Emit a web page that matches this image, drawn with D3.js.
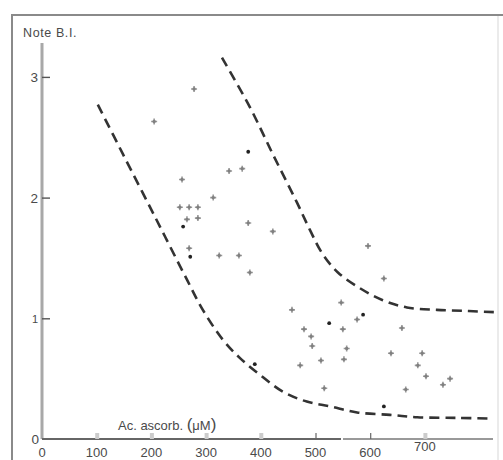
<!DOCTYPE html>
<html><head><meta charset="utf-8">
<script src="https://cdn.jsdelivr.net/npm/d3@7"></script>
<style>body{margin:0;background:#fff}svg{display:block}text{font-family:"Liberation Sans",Arial,sans-serif;fill:#4a4a4a}</style>
</head><body><svg id="c" width="503" height="460"></svg>
<script>
// Data
const xTicks = [0,100,200,300,400,500,600,700];
const yTicks = [0,1,2,3];
// grey "+" measurements: [ascorbic acid µM, B.I. score]
const crossX = [205,278,256,342,366,313,252,269,285,265,285,269,377,422,324,360,380,457,596,625,547,576,479,550,658,492,494,557,638,695,510,552,472,687,702,746,733,516,665];
const crossY = [2.63,2.90,2.15,2.22,2.24,2.00,1.92,1.92,1.92,1.82,1.83,1.58,1.79,1.72,1.52,1.52,1.38,1.07,1.60,1.33,1.13,0.99,0.91,0.91,0.92,0.85,0.77,0.75,0.71,0.71,0.65,0.66,0.61,0.61,0.52,0.50,0.45,0.42,0.41];
// small black dots
const dotX = [377,258,271,587,525,625,389];
const dotY = [2.38,1.76,1.51,1.03,0.96,0.27,0.62];
// lower envelope (dashed)
const lowX = [102,148,210,265,294,331,362,399,441,484,527,576,636,686,760,819];
const lowY = [2.77,2.36,1.81,1.32,1.07,0.82,0.67,0.53,0.39,0.31,0.27,0.22,0.20,0.18,0.175,0.17];
// upper envelope (dashed)
const upX = [329,380,423,466,490,512,541,581,623,667,722,780,832];
const upY = [3.16,2.75,2.35,1.96,1.73,1.54,1.38,1.25,1.15,1.09,1.07,1.06,1.05];

const svg = d3.select("#c");
const x = d3.scaleLinear().domain([0,800]).range([42,479.6]);
const y = d3.scaleLinear().domain([0,3]).range([439,76.9]);

// frame
svg.append("path").attr("d","M12,460 L12,15 L503,15").attr("fill","none").attr("stroke","#8a8a8a").attr("stroke-width",2);
svg.append("line").attr("x1",498).attr("x2",498).attr("y1",16).attr("y2",460).attr("stroke","#e4e4e4").attr("stroke-width",1.5);

// y axis
svg.append("line").attr("x1",x(0)).attr("x2",x(0)).attr("y1",43).attr("y2",y(0)).attr("stroke","#a8a8a8").attr("stroke-width",3);
const ya = d3.axisRight(y).tickValues([1,2,3]).tickSize(8).tickFormat("");
const yg = svg.append("g").attr("transform",`translate(${x(0)},0)`).call(ya);
yg.select(".domain").remove();
yg.selectAll(".tick line").attr("stroke","#555").attr("stroke-width",1.4);
svg.selectAll("text.ylab").data(yTicks).enter().append("text").attr("class","ylab")
  .attr("x",d=>d===0?39:38).attr("y",d=>y(d)+5).attr("text-anchor","end")
  .attr("font-size",d=>d===1?11:13.5).text(d=>d);
svg.append("text").attr("x",23).attr("y",37).attr("font-size",12.5).attr("letter-spacing",0.6).text("Note  B.I.");

// x axis
svg.append("line").attr("x1",x(0)).attr("x2",341).attr("y1",y(0)).attr("y2",y(0)).attr("stroke","#666").attr("stroke-width",2);
svg.append("line").attr("x1",343).attr("x2",493).attr("y1",y(0)).attr("y2",y(0)).attr("stroke","#999").attr("stroke-width",2);
const xa = d3.axisTop(x).tickValues(xTicks.slice(1)).tickSize(6).tickFormat("");
const xg = svg.append("g").attr("transform",`translate(0,${y(0)})`).call(xa);
xg.select(".domain").remove();
xg.selectAll(".tick line").attr("stroke",d=>(d===500||d===600)?"#666":"#ccc").attr("stroke-width",d=>(d===500||d===600)?1.2:4);
svg.selectAll("text.xlab").data(xTicks).enter().append("text").attr("class","xlab")
  .attr("x",d=>x(d)).attr("y",d=>d===700?451:457).attr("text-anchor","middle")
  .attr("font-size",13).attr("fill","#555").text(d=>d);
const t = svg.append("text").attr("x",118).attr("y",430).attr("font-size",13);
t.append("tspan").text("Ac. ascorb. ");
t.append("tspan").attr("font-size",17).text("(");
t.append("tspan").text("μM");
t.append("tspan").attr("font-size",17).text(")");

// envelopes
const line = d3.line().curve(d3.curveCatmullRom.alpha(0.5));
const lowPts = lowX.map((v,i)=>[x(v),y(lowY[i])]);
const upPts = upX.map((v,i)=>[x(v),y(upY[i])]);
svg.append("path").attr("d",line(lowPts)).attr("fill","none").attr("stroke","#333").attr("stroke-width",2.6).attr("stroke-dasharray","10,6");
svg.append("path").attr("d",line(upPts)).attr("fill","none").attr("stroke","#333").attr("stroke-width",2.6).attr("stroke-dasharray","10,6");

// crosses
const cg = svg.append("g");
crossX.forEach((v,i)=>{
  const cx = x(v), cy = y(crossY[i]);
  cg.append("path").attr("d",`M${cx-3},${cy}H${cx+3}M${cx},${cy-3}V${cy+3}`).attr("stroke","#999").attr("stroke-width",1.6);
  cg.append("circle").attr("cx",cx).attr("cy",cy).attr("r",1.7).attr("fill","#808080");
});
svg.selectAll("circle.dot").data(dotX).enter().append("circle").attr("class","dot")
  .attr("cx",d=>x(d)).attr("cy",(d,i)=>y(dotY[i])).attr("r",1.9).attr("fill","#222");
</script></body></html>
